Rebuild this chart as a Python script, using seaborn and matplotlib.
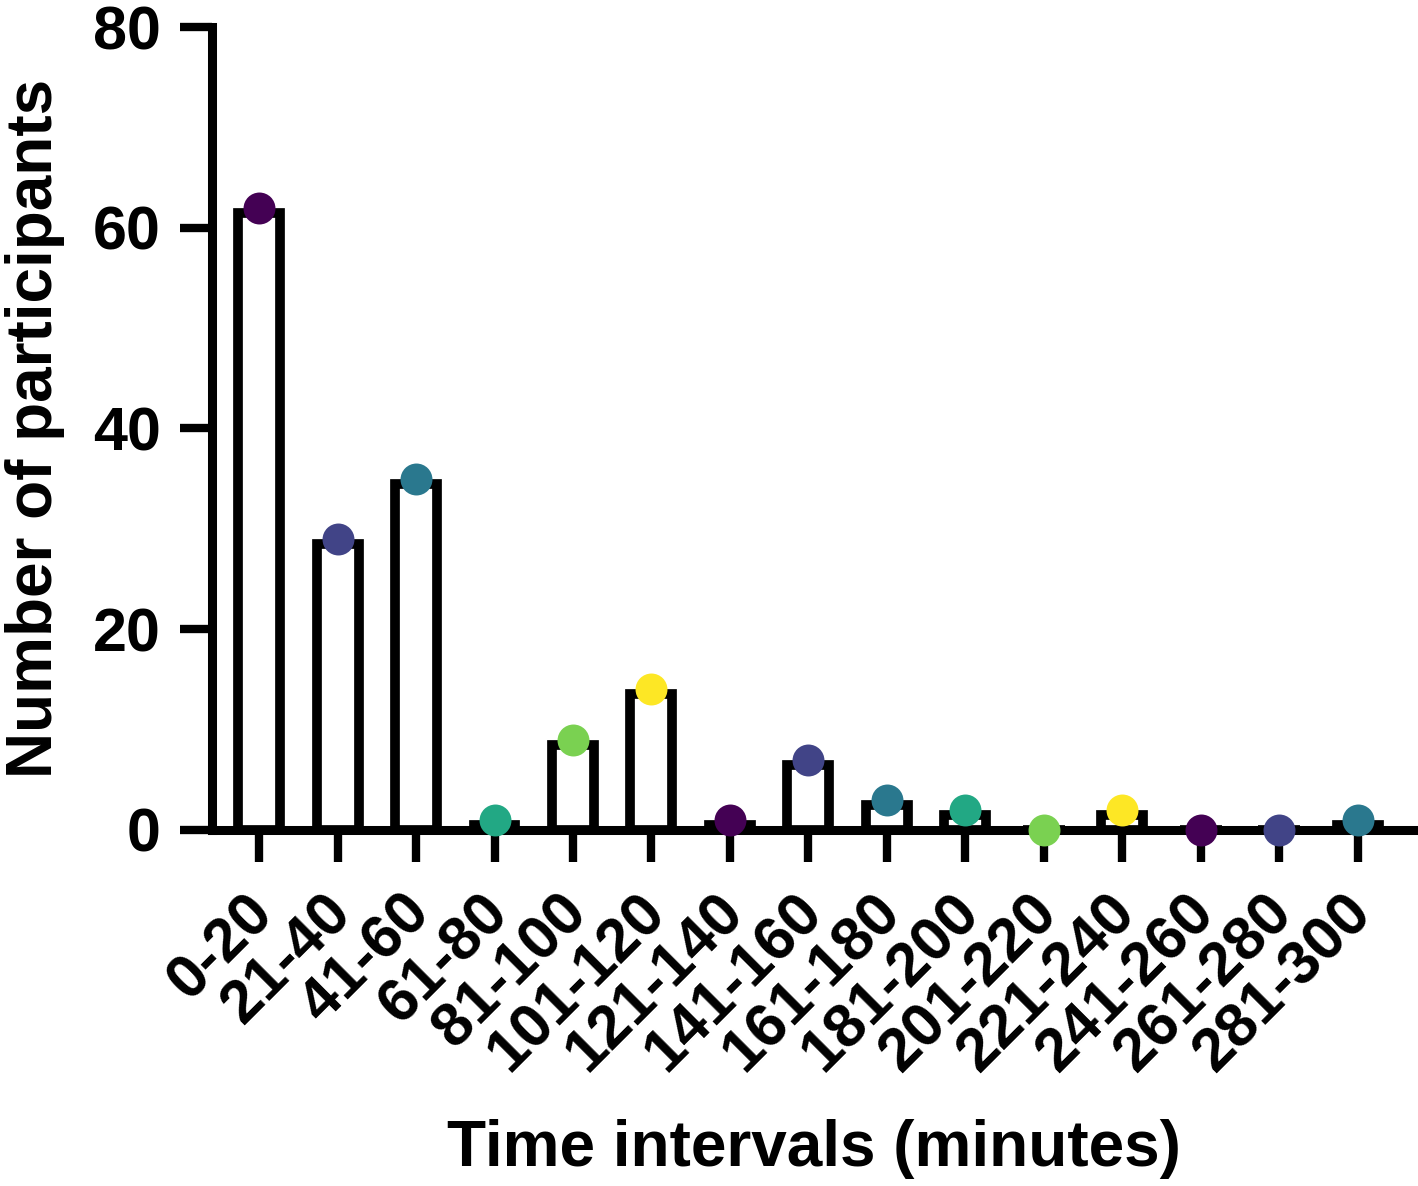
import numpy as np
import pandas as pd
import matplotlib
matplotlib.use("Agg")
import matplotlib.pyplot as plt
import matplotlib.transforms as mtransforms
import seaborn as sns

# Participants per time interval (minutes)
intervals = ["0-20", "21-40", "41-60", "61-80", "81-100", "101-120", "121-140",
             "141-160", "161-180", "181-200", "201-220", "221-240", "241-260",
             "261-280", "281-300"]
participants = [62, 29, 35, 1, 9, 14, 1, 7, 3, 2, 0, 2, 0, 0, 1]

# viridis sampled at 6 evenly spaced stops, repeated along the x axis
dot_colors = ["#440154", "#414487", "#2a788e", "#22a884", "#7ad151", "#fde725"]

sns.set_style("ticks", {"axes.edgecolor": "black", "text.color": "black",
                        "axes.labelcolor": "black", "xtick.color": "black",
                        "ytick.color": "black"})
plt.rcParams["font.family"] = ["Liberation Sans", "DejaVu Sans"]
plt.rcParams["font.weight"] = "bold"

df = pd.DataFrame({"interval": intervals, "n": participants})
palette = {iv: dot_colors[i % len(dot_colors)] for i, iv in enumerate(intervals)}

fig = plt.figure(figsize=(14.18, 11.86), dpi=100)
ax = fig.add_axes([212 / 1418, 1 - 830 / 1186, (1415 - 212) / 1418, (830 - 27) / 1186])

bar_lw = 7
sns.barplot(data=df, x="interval", y="n", color="white", saturation=1,
            edgecolor="black", linewidth=bar_lw, width=0.535, errorbar=None, ax=ax)
sns.stripplot(data=df, x="interval", y="n", hue="interval", palette=palette,
              jitter=False, size=23, linewidth=0, legend=False, ax=ax,
              zorder=5, clip_on=False)

ax.set_ylim(0, 80)
ax.set_xlim(-0.6, 14.73)
ax.set_yticks([0, 20, 40, 60, 80])

# keep the thick outline inside the bar so its top sits at the value
half_lw_px = bar_lw / 2 * fig.dpi / 72
units_per_px = 80 / (ax.get_position().height * fig.get_figheight() * fig.dpi)
for p in ax.patches:
    h = p.get_height()
    if h > 0:
        p.set_height(h - half_lw_px * units_per_px)

sns.despine(ax=ax)
for side in ["left", "bottom"]:
    ax.spines[side].set_linewidth(6.5)

ax.tick_params(axis="both", length=23, width=6, labelsize=44)
ax.tick_params(axis="y", pad=14)
ax.tick_params(axis="x", pad=16)
shift = mtransforms.ScaledTranslation(-0.15, 0, fig.dpi_scale_trans)
for lab in ax.get_xticklabels():
    lab.set_rotation(45)
    lab.set_ha("right")
    lab.set_va("top")
    lab.set_rotation_mode("anchor")
    lab.set_fontweight("bold")
    lab.set_transform(lab.get_transform() + shift)
for lab in ax.get_yticklabels():
    lab.set_fontweight("bold")

ax.set_xlabel("Time intervals (minutes)", fontsize=46, fontweight="bold")
ax.set_ylabel("Number of participants", fontsize=46, fontweight="bold")
ax.xaxis.set_label_coords(0.5, -0.36)
ax.yaxis.set_label_coords(-0.122, 0.5)

fig.savefig("out.png", dpi=100)
